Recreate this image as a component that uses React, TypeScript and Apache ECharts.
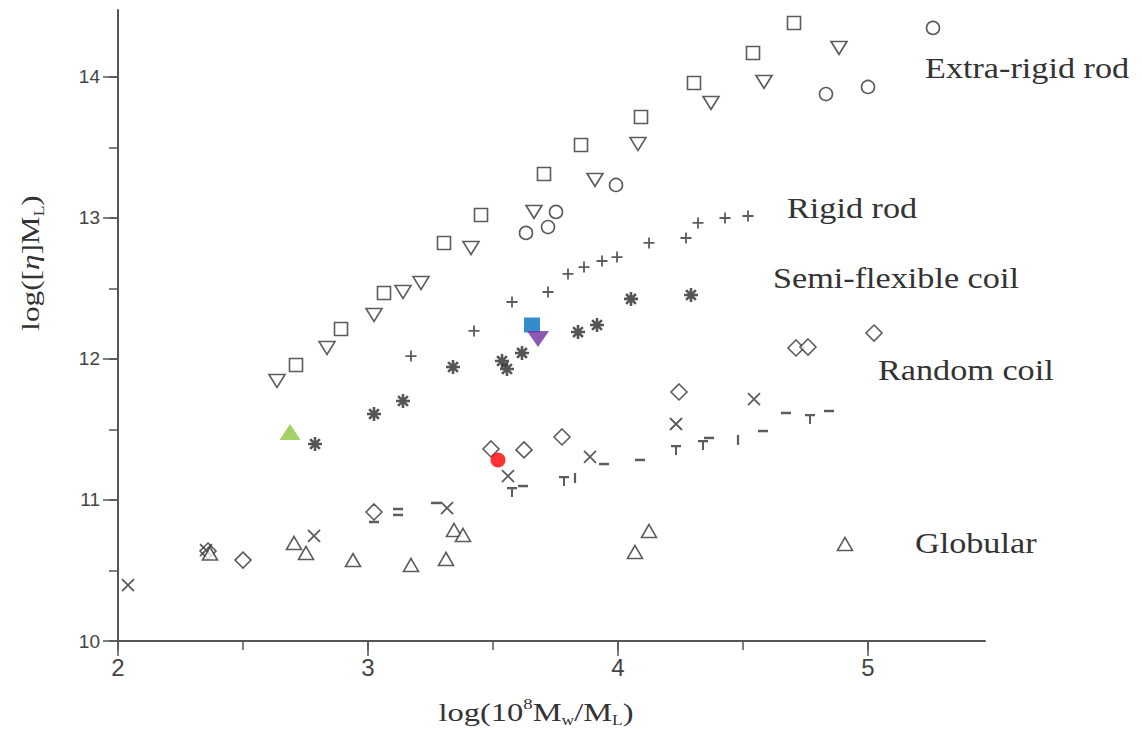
import React, { useEffect, useRef } from "react";
import * as echarts from "echarts";

// ---------- data (x = log(10^8 Mw/ML), y = log([eta]ML)) ----------
const extraRigidSquares: number[][] = [
  [2.712, 11.957], [2.892, 12.213], [3.064, 12.468], [3.304, 12.823], [3.452, 13.021],
  [3.704, 13.312], [3.852, 13.518], [4.092, 13.716], [4.304, 13.957], [4.54, 14.17], [4.704, 14.383],
];
const extraRigidDownTriangles: number[][] = [
  [2.636, 11.844], [2.836, 12.078], [3.024, 12.312], [3.14, 12.475], [3.212, 12.539],
  [3.412, 12.787], [3.664, 13.043], [3.908, 13.27], [4.08, 13.525], [4.372, 13.816],
  [4.584, 13.965], [4.884, 14.206],
];
const extraRigidCircles: number[][] = [
  [3.632, 12.894], [3.72, 12.936], [3.752, 13.043], [3.992, 13.234],
  [4.832, 13.879], [5.0, 13.929], [5.26, 14.348],
];
const rigidRodPlus: number[][] = [
  [3.172, 12.021], [3.424, 12.199], [3.576, 12.404], [3.72, 12.475], [3.8, 12.603],
  [3.864, 12.652], [3.936, 12.695], [3.996, 12.723], [4.124, 12.823], [4.272, 12.858],
  [4.32, 12.965], [4.428, 13.0], [4.52, 13.014],
];
const semiFlexibleAsterisks: number[][] = [
  [2.788, 11.397], [3.024, 11.61], [3.14, 11.702], [3.34, 11.943], [3.536, 11.986],
  [3.556, 11.929], [3.616, 12.043], [3.84, 12.191], [3.916, 12.241], [4.052, 12.426], [4.292, 12.454],
];
const randomCoilDiamonds: number[][] = [
  [2.36, 10.638], [2.5, 10.574], [3.024, 10.915], [3.492, 11.362], [3.624, 11.355],
  [3.776, 11.447], [4.244, 11.766], [4.712, 12.078], [4.76, 12.085], [5.024, 12.184],
];
const randomCoilCrosses: number[][] = [
  [2.04, 10.397], [2.352, 10.645], [2.784, 10.745], [3.316, 10.943], [3.56, 11.17],
  [3.888, 11.305], [4.232, 11.539], [4.544, 11.716],
];
const randomCoilDashes: number[][] = [
  [3.12, 10.936], [3.12, 10.894], [3.024, 10.844], [3.272, 10.979], [3.62, 11.099],
  [3.944, 11.255], [4.088, 11.284], [4.364, 11.44], [4.58, 11.489], [4.672, 11.617], [4.844, 11.631],
];
const randomCoilTees: number[][] = [
  [3.576, 11.057], [3.784, 11.135], [4.232, 11.355], [4.34, 11.39], [4.768, 11.574],
];
const randomCoilBars: number[][] = [
  [3.828, 11.156], [4.48, 11.426],
];
const globularTriangles: number[][] = [
  [2.368, 10.62], [2.704, 10.695], [2.752, 10.624], [2.94, 10.574], [3.172, 10.539],
  [3.312, 10.582], [3.344, 10.787], [3.38, 10.752], [4.068, 10.631], [4.124, 10.78], [4.908, 10.688],
];
const greenPoint: number[][] = [[2.688, 11.482]];
const bluePoint: number[][] = [[3.656, 12.241]];
const purplePoint: number[][] = [[3.68, 12.142]];
const redPoint: number[][] = [[3.52, 11.284]];

const xLabelValues = [2, 3, 4, 5];
const xMinorTickValues = [2, 2.5, 3, 3.5, 4, 4.5, 5];
const yLabelValues = [10, 11, 12, 13, 14];
const yMinorTickValues = [10, 10.5, 11, 11.5, 12, 12.5, 13, 13.5, 14];

const regionLabels = ["Extra-rigid rod", "Rigid rod", "Semi-flexible coil", "Random coil", "Globular"];

// ---------- styling ----------
const INK = "#333";
const AXIS = "#555";
const X_MIN = 2;
const X_MAX = 5.468;
const Y_MIN = 10;
const Y_MAX = 14.475;

const openStyle = { color: "#fff", borderColor: INK, borderWidth: 1.6 };
const strokeStyle = { color: INK, borderColor: INK, borderWidth: 1.8 };

export default function App() {
  const ref = useRef<HTMLDivElement>(null);

  useEffect(() => {
    document.body.style.margin = "0";
    const chart = echarts.init(ref.current!, null, { renderer: "svg" });

    const scatter = (data: number[][], symbol: string, size: any, itemStyle: any, extra: any = {}) => ({
      type: "scatter",
      data,
      symbol,
      symbolSize: size,
      itemStyle,
      xAxisIndex: 0,
      yAxisIndex: 0,
      ...extra,
    });

    const serif = "'Liberation Serif', 'DejaVu Serif', serif";
    const narrow = "'Liberation Sans Narrow', 'Liberation Sans', Arial, sans-serif";
    const sans = "'Liberation Sans', Arial, sans-serif";

    const label = (text: string, x: number, y: number) => ({
      type: "text",
      x,
      y,
      scaleX: 1.14,
      style: { text, font: `30px ${serif}`, fill: "#333", textVerticalAlign: "middle" },
    });

    const intLabel = (vals: number[]) => (v: number) =>
      vals.some((t) => Math.abs(t - v) < 1e-6) ? String(Math.round(v)) : "";

    const option: any = {
      animation: false,
      backgroundColor: "#fff",
      grid: { left: 118, right: 157, top: 10, bottom: 88, containLabel: false },
      xAxis: [
        {
          type: "value",
          min: X_MIN,
          max: X_MAX,
          interval: 0.5,
          splitLine: { show: false },
          axisLine: { show: true, lineStyle: { color: AXIS, width: 2 } },
          axisTick: { show: true, length: 9, customValues: xMinorTickValues, lineStyle: { color: AXIS, width: 1.5 } },
          axisLabel: {
            formatter: intLabel(xLabelValues),
            showMaxLabel: false,
            margin: 14,
            fontSize: 24,
            fontFamily: narrow,
            color: "#444",
          },
        },
        {
          type: "value",
          min: X_MIN,
          max: X_MAX,
          interval: 0.5,
          position: "bottom",
          splitLine: { show: false },
          axisLine: { show: false },
          axisTick: { show: true, length: 15, customValues: xLabelValues, lineStyle: { color: AXIS, width: 1.5 } },
          axisLabel: { show: false },
        },
      ],
      yAxis: [
        {
          type: "value",
          min: Y_MIN,
          max: Y_MAX,
          interval: 0.5,
          splitLine: { show: false },
          axisLine: { show: true, lineStyle: { color: AXIS, width: 2 } },
          axisTick: { show: true, length: 9, customValues: yMinorTickValues, lineStyle: { color: AXIS, width: 1.5 } },
          axisLabel: {
            formatter: intLabel(yLabelValues),
            showMaxLabel: false,
            margin: 18,
            fontSize: 19,
            fontFamily: sans,
            color: "#444",
          },
        },
        {
          type: "value",
          min: Y_MIN,
          max: Y_MAX,
          interval: 0.5,
          position: "left",
          splitLine: { show: false },
          axisLine: { show: false },
          axisTick: { show: true, length: 15, customValues: yLabelValues, lineStyle: { color: AXIS, width: 1.5 } },
          axisLabel: { show: false },
        },
      ],
      series: [
        scatter(extraRigidSquares, "rect", 13, openStyle),
        scatter(extraRigidDownTriangles, "triangle", [16, 13], openStyle, { symbolRotate: 180 }),
        scatter(extraRigidCircles, "circle", 13, openStyle),
        scatter(rigidRodPlus, "path://M5,0 L5,10 M0,5 L10,5", 11, strokeStyle),
        scatter(
          semiFlexibleAsterisks,
          "path://M5,0 L5,10 M0,5 L10,5 M1.5,1.5 L8.5,8.5 M8.5,1.5 L1.5,8.5",
          14,
          { color: INK, borderColor: "#2a2a2a", borderWidth: 2.6 }
        ),
        scatter(randomCoilDiamonds, "diamond", [16, 16], openStyle),
        scatter(randomCoilCrosses, "path://M0,0 L10,10 M10,0 L0,10", 12, strokeStyle),
        scatter(randomCoilDashes, "rect", [10, 2.5], { color: INK }),
        scatter(randomCoilTees, "path://M0,0 L10,0 L10,2 L6,2 L6,9 L4,9 L4,2 L0,2 Z", [10, 10], { color: INK }),
        scatter(randomCoilBars, "rect", [2.2, 10], { color: INK }),
        scatter(globularTriangles, "triangle", [15, 13], openStyle),
        scatter(greenPoint, "triangle", [21, 16], { color: "#8dc63f" }, { z: 5 }),
        scatter(bluePoint, "rect", [16, 15], { color: "#0070c0" }, { z: 5 }),
        scatter(purplePoint, "triangle", [22, 16], { color: "#7030a0" }, { symbolRotate: 180, z: 6 }),
        scatter(redPoint, "circle", 15, { color: "#ff0000" }, { z: 5 }),
      ],
      graphic: [
        label(regionLabels[0], 925, 68),
        label(regionLabels[1], 787, 208),
        label(regionLabels[2], 773, 278),
        label(regionLabels[3], 878, 370),
        label(regionLabels[4], 915, 543),
        {
          type: "text",
          x: 536,
          y: 712,
          scaleX: 1.25,
          style: {
            text: "{a|log(10}{sup|8}{a|M}{sub|w}{a|/M}{sub|L}{a|)}",
            align: "center",
            verticalAlign: "middle",
            fill: "#333",
            rich: {
              a: { fontSize: 26, fontFamily: serif, fill: "#333", lineHeight: 30 },
              sup: { fontSize: 15, fontFamily: serif, fill: "#333", verticalAlign: "top", lineHeight: 30 },
              sub: { fontSize: 14, fontFamily: serif, fill: "#333", verticalAlign: "bottom", lineHeight: 30 },
            },
          },
        },
        {
          type: "text",
          x: 31,
          y: 263,
          rotation: Math.PI / 2,
          scaleX: 1.25,
          style: {
            text: "{a|log([}{i|η}{a|]M}{sub|L}{a|)}",
            align: "center",
            verticalAlign: "middle",
            fill: "#333",
            rich: {
              a: { fontSize: 25, fontFamily: serif, fill: "#333", lineHeight: 30 },
              i: { fontSize: 25, fontFamily: serif, fontStyle: "italic", fill: "#333", lineHeight: 30 },
              sub: { fontSize: 14, fontFamily: serif, fill: "#333", verticalAlign: "bottom", lineHeight: 30 },
            },
          },
        },
      ],
    };

    chart.setOption(option);
    return () => chart.dispose();
  }, []);

  return <div ref={ref} style={{ width: 1142, height: 729 }} />;
}
